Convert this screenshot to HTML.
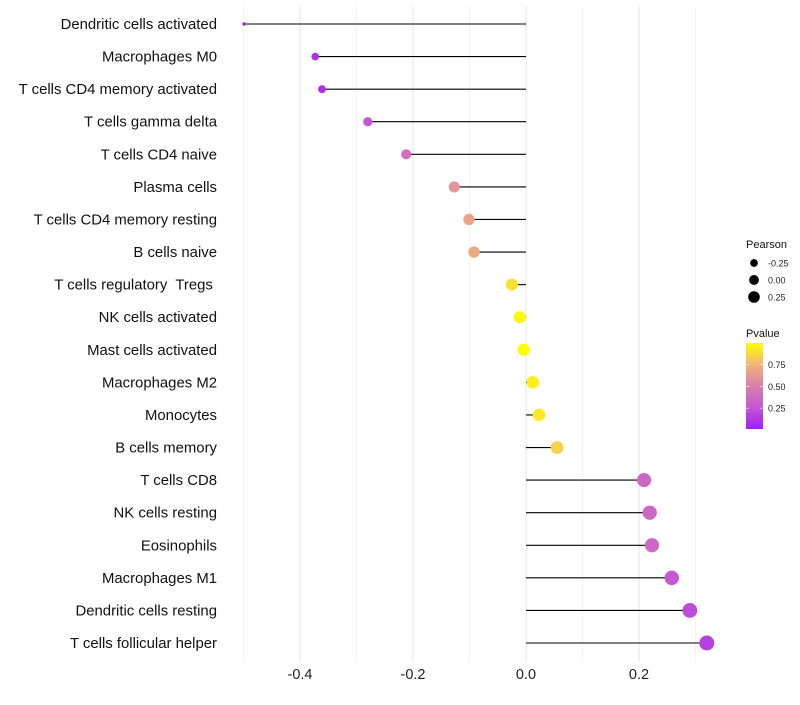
<!DOCTYPE html>
<html><head><meta charset="utf-8"><style>
body{margin:0;background:#fff;font-family:"Liberation Sans",sans-serif}
text{white-space:pre}
</style></head><body>
<svg id="chart" width="800" height="700" xmlns="http://www.w3.org/2000/svg" font-family="Liberation Sans, sans-serif"></svg>
<script>
const categories=["Dendritic cells activated","Macrophages M0","T cells CD4 memory activated","T cells gamma delta","T cells CD4 naive","Plasma cells","T cells CD4 memory resting","B cells naive","T cells regulatory  Tregs ","NK cells activated","Mast cells activated","Macrophages M2","Monocytes","B cells memory","T cells CD8","NK cells resting","Eosinophils","Macrophages M1","Dendritic cells resting","T cells follicular helper"];
const pearson=[-0.499,-0.373,-0.361,-0.280,-0.212,-0.127,-0.101,-0.092,-0.025,-0.011,-0.004,0.012,0.023,0.055,0.209,0.219,0.223,0.258,0.290,0.320];
const pvalue=[0.02,0.08,0.08,0.25,0.40,0.60,0.68,0.70,0.90,0.97,1.0,0.95,0.93,0.85,0.35,0.35,0.35,0.27,0.20,0.15];
const xTicks=[-0.4,-0.2,0.0,0.2];
const xTickLabels=["-0.4","-0.2","0.0","0.2"];
const xMinor=[-0.5,-0.3,-0.1,0.1,0.3];
const sizeLegend=[-0.25,0.00,0.25];
const colorLegend=[0.25,0.50,0.75];

const svg=document.getElementById('chart');
const NS="http://www.w3.org/2000/svg";
function mk(tag,attrs,parent){const e=document.createElementNS(NS,tag);for(const k in attrs)e.setAttribute(k,attrs[k]);(parent||svg).appendChild(e);return e;}
const x=v=>526+v*565;
const y=i=>24+i*(619/19);
const r=p=>1.5+6*Math.sqrt(Math.max(0,(p+0.5)/0.82));
const stops=[[0,[160,32,240]],[0.25,[196,86,214]],[0.5,[218,128,172]],[0.75,[240,180,120]],[1,[255,255,0]]];
function col(p){for(let i=1;i<stops.length;i++){if(p<=stops[i][0]){const a=stops[i-1],b=stops[i];const t=(p-a[0])/(b[0]-a[0]);const c=a[1].map((v,k)=>Math.round(v+(b[1][k]-v)*t));return `rgb(${c})`;}}return 'rgb(255,255,0)';}

const grid=mk('g',{});

xMinor.forEach(v=>{const l=mk('line',{x1:x(v),x2:x(v),y1:6,y2:662,stroke:'#f3f3f3','stroke-width':1},grid);});
xTicks.forEach((v,i)=>{const l=mk('line',{x1:x(v),x2:x(v),y1:6,y2:662,stroke:'#ebebeb','stroke-width':1.2},grid);
const t=mk('text',{x:x(v),y:679,'text-anchor':'middle','font-size':14.5,fill:'#222'});t.textContent=xTickLabels[i];});

categories.forEach((c,i)=>{
const t=mk('text',{x:217,y:y(i)+5,'text-anchor':'end','font-size':14.9,fill:'#111'});t.textContent=c;

const l=mk('line',{x1:x(0),x2:x(pearson[i]),y1:y(i),y2:y(i),stroke:'#000','stroke-width':1.1});

const d=mk('circle',{cx:x(pearson[i]),cy:y(i),r:r(pearson[i]),fill:col(pvalue[i])});

});

const lg=mk('g',{});
const lt=mk('text',{x:746,y:248,'font-size':11,fill:'#111'},lg);lt.textContent='Pearson';
sizeLegend.forEach((v,i)=>{const cy=263+i*17;const c=mk('circle',{cx:754,cy:cy,r:r(v)*0.8,fill:'#000'},lg);
const t=mk('text',{x:768,y:cy+3.5,'font-size':9,fill:'#222'},lg);t.textContent=v.toFixed(2);});
const pt=mk('text',{x:746,y:337,'font-size':11,fill:'#111'},lg);pt.textContent='Pvalue';
const defs=mk('defs',{});const gr=mk('linearGradient',{id:'cg',x1:0,y1:1,x2:0,y2:0},defs);
stops.forEach(s=>mk('stop',{offset:s[0],'stop-color':`rgb(${s[1]})`},gr));
const cb=mk('rect',{x:746,y:343,width:17,height:86,fill:'url(#cg)'},lg);
colorLegend.forEach(v=>{const cy=429-(v-0.01)/0.99*86;
mk('line',{x1:746,x2:749,y1:cy,y2:cy,stroke:'#fff','stroke-width':0.6},lg);mk('line',{x1:760,x2:763,y1:cy,y2:cy,stroke:'#fff','stroke-width':0.6},lg);
const t=mk('text',{x:768,y:cy+3.5,'font-size':9,fill:'#222'},lg);t.textContent=v.toFixed(2);});
</script>
</body></html>
